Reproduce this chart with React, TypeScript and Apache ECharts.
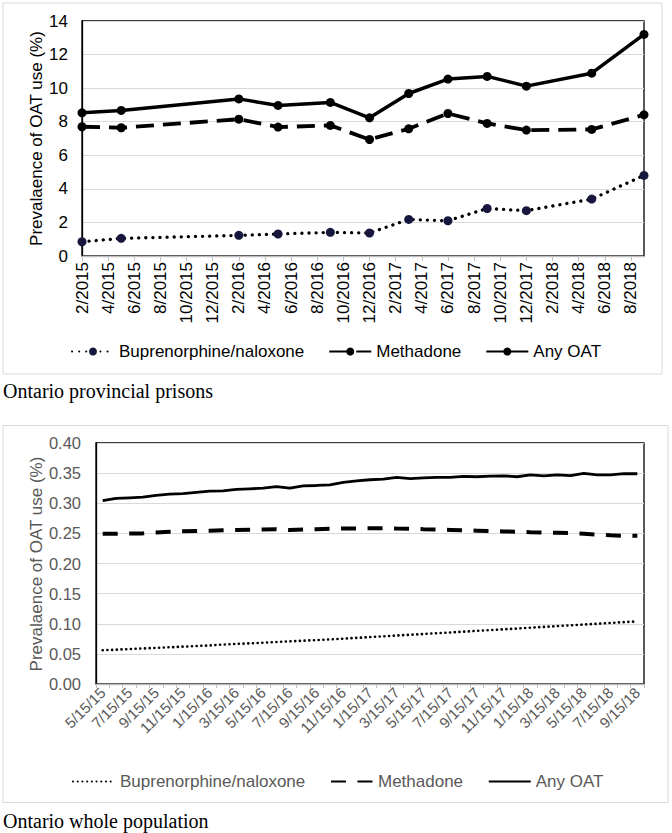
import React, { useEffect, useRef } from "react";
import * as echarts from "echarts";

// ---------- Top chart: Ontario provincial prisons ----------
const topMonths = [
  "2/2015", "3/2015", "4/2015", "5/2015", "6/2015", "7/2015", "8/2015", "9/2015", "10/2015", "11/2015", "12/2015",
  "1/2016", "2/2016", "3/2016", "4/2016", "5/2016", "6/2016", "7/2016", "8/2016", "9/2016", "10/2016", "11/2016", "12/2016",
  "1/2017", "2/2017", "3/2017", "4/2017", "5/2017", "6/2017", "7/2017", "8/2017", "9/2017", "10/2017", "11/2017", "12/2017",
  "1/2018", "2/2018", "3/2018", "4/2018", "5/2018", "6/2018", "7/2018", "8/2018", "9/2018",
];
const topSampleDates = ["2/2015", "5/2015", "2/2016", "5/2016", "9/2016", "12/2016", "3/2017", "6/2017", "9/2017", "12/2017", "5/2018", "9/2018"];
const topBupe = [0.85, 1.05, 1.23, 1.31, 1.41, 1.37, 2.18, 2.1, 2.83, 2.7, 3.39, 4.8];
const topMethadone = [7.7, 7.64, 8.15, 7.68, 7.78, 6.94, 7.58, 8.49, 7.9, 7.5, 7.54, 8.41];
const topAnyOAT = [8.53, 8.67, 9.36, 8.97, 9.15, 8.23, 9.68, 10.54, 10.7, 10.12, 10.89, 13.2];

// ---------- Bottom chart: Ontario whole population ----------
const bottomMonths = [
  "5/15/15", "6/15/15", "7/15/15", "8/15/15", "9/15/15", "10/15/15", "11/15/15", "12/15/15",
  "1/15/16", "2/15/16", "3/15/16", "4/15/16", "5/15/16", "6/15/16", "7/15/16", "8/15/16", "9/15/16", "10/15/16", "11/15/16", "12/15/16",
  "1/15/17", "2/15/17", "3/15/17", "4/15/17", "5/15/17", "6/15/17", "7/15/17", "8/15/17", "9/15/17", "10/15/17", "11/15/17", "12/15/17",
  "1/15/18", "2/15/18", "3/15/18", "4/15/18", "5/15/18", "6/15/18", "7/15/18", "8/15/18", "9/15/18",
];
const bottomBupe = [
  0.056, 0.057, 0.058, 0.059, 0.060, 0.061, 0.062, 0.063, 0.064, 0.0655,
  0.0665, 0.0675, 0.0685, 0.0697, 0.0708, 0.0719, 0.0729, 0.074, 0.0753, 0.0766,
  0.0779, 0.0792, 0.0805, 0.0817, 0.083, 0.0843, 0.0856, 0.0869, 0.0882, 0.0895,
  0.0908, 0.0921, 0.0935, 0.0948, 0.0961, 0.0974, 0.0987, 0.1, 0.1014, 0.1027, 0.104,
];
const bottomMethadone = [
  0.2495, 0.2495, 0.25, 0.25, 0.2515, 0.2525, 0.2535, 0.254, 0.2545, 0.255,
  0.2555, 0.256, 0.2565, 0.257, 0.2555, 0.2565, 0.257, 0.2575, 0.258, 0.258,
  0.2585, 0.2585, 0.258, 0.2578, 0.257, 0.2565, 0.2558, 0.255, 0.2545, 0.254,
  0.2533, 0.2527, 0.252, 0.2515, 0.251, 0.2503, 0.2495, 0.248, 0.2468, 0.246, 0.246,
];
const bottomAnyOAT = [
  0.3044, 0.308, 0.309, 0.31, 0.313, 0.315, 0.316, 0.318, 0.32, 0.3205,
  0.323, 0.324, 0.325, 0.3275, 0.325, 0.329, 0.3295, 0.3305, 0.3345, 0.337,
  0.339, 0.34, 0.343, 0.341, 0.342, 0.343, 0.343, 0.3445, 0.344, 0.345,
  0.3455, 0.344, 0.347, 0.3455, 0.347, 0.346, 0.3495, 0.347, 0.347, 0.349, 0.349,
];

const FONT = "'Liberation Sans', Arial, Helvetica, sans-serif";
const SERIF = "'Liberation Serif', 'Times New Roman', serif";
const GRAY_TEXT = "#595959";

export default function App() {
  const ref = useRef<HTMLDivElement>(null);

  useEffect(() => {
    document.body.style.margin = "0";
    if (!ref.current) return;
    const chart = echarts.init(ref.current, undefined, { renderer: "svg" });

    const option: any = {
      animation: false,
      backgroundColor: "#fff",
      textStyle: { fontFamily: FONT },
      grid: [
        { left: 82, top: 21, width: 562, height: 235, show: true, borderColor: "#000", borderWidth: 1.3, backgroundColor: "transparent" },
        { left: 96, top: 443, width: 548, height: 241, show: true, borderColor: "#000", borderWidth: 1.3, backgroundColor: "transparent" },
      ],
      xAxis: [
        {
          type: "category",
          gridIndex: 0,
          data: topMonths,
          boundaryGap: false,
          axisLine: { show: true, lineStyle: { color: "#bfbfbf", width: 1.3 } },
          axisTick: { show: true, interval: 1, length: 5, lineStyle: { color: "#bfbfbf" } },
          axisLabel: { interval: 1, rotate: 90, fontSize: 17, color: "#000", margin: 6, fontFamily: FONT },
          splitLine: { show: false },
        },
        {
          type: "category",
          gridIndex: 1,
          data: bottomMonths,
          boundaryGap: true,
          axisLine: { show: true, lineStyle: { color: "#bfbfbf", width: 1.3 } },
          axisTick: { show: true, interval: 0, length: 4, lineStyle: { color: "#bfbfbf" } },
          axisLabel: { interval: 1, rotate: 45, fontSize: 15, color: GRAY_TEXT, margin: 6, fontFamily: FONT },
          splitLine: { show: false },
        },
      ],
      yAxis: [
        {
          type: "value",
          gridIndex: 0,
          min: 0,
          max: 14,
          interval: 2,
          axisLine: { show: true, lineStyle: { color: "#000", width: 1.3 } },
          axisTick: { show: false },
          axisLabel: { fontSize: 17, color: "#000", margin: 14, fontFamily: FONT },
          splitLine: { show: true, lineStyle: { color: "#d9d9d9", width: 1 } },
        },
        {
          type: "value",
          gridIndex: 1,
          min: 0,
          max: 0.4,
          interval: 0.05,
          axisLine: { show: true, lineStyle: { color: "#000", width: 1.3 } },
          axisTick: { show: false },
          axisLabel: {
            fontSize: 16.5,
            color: GRAY_TEXT,
            margin: 15,
            fontFamily: FONT,
            formatter: (v: number) => v.toFixed(2),
          },
          splitLine: { show: true, lineStyle: { color: "#d9d9d9", width: 1 } },
        },
      ],
      legend: [
        {
          data: ["Buprenorphine/naloxone", "Methadone", "Any OAT"],
          left: 66,
          top: 338,
          itemWidth: 42,
          itemHeight: 10,
          itemGap: 24,
          textStyle: { fontSize: 17, color: "#000", fontFamily: FONT },
        },
        {
          data: ["Buprenorphine/naloxone ", "Methadone ", "Any OAT "],
          left: 67,
          top: 768,
          itemWidth: 42,
          itemHeight: 2,
          itemGap: 20,
          itemStyle: { color: "rgba(0,0,0,0)", borderColor: "rgba(0,0,0,0)", borderWidth: 0 },
          textStyle: { fontSize: 17, color: GRAY_TEXT, fontFamily: FONT },
        },
      ],
      series: [
        {
          name: "Buprenorphine/naloxone",
          type: "line",
          xAxisIndex: 0,
          yAxisIndex: 0,
          data: topSampleDates.map((d, i) => [d, topBupe[i]]),
          symbol: "circle",
          symbolSize: 9,
          showAllSymbol: true,
          itemStyle: { color: "#17173d" },
          lineStyle: { color: "#000", width: 3.3, type: [0.1, 7], cap: "round" },
          z: 3,
        },
        {
          name: "Methadone",
          type: "line",
          xAxisIndex: 0,
          yAxisIndex: 0,
          data: topSampleDates.map((d, i) => [d, topMethadone[i]]),
          symbol: "circle",
          symbolSize: 9,
          showAllSymbol: true,
          itemStyle: { color: "#000" },
          lineStyle: { color: "#000", width: 3.8, type: [18, 9] },
          z: 3,
        },
        {
          name: "Any OAT",
          type: "line",
          xAxisIndex: 0,
          yAxisIndex: 0,
          data: topSampleDates.map((d, i) => [d, topAnyOAT[i]]),
          symbol: "circle",
          symbolSize: 9,
          showAllSymbol: true,
          itemStyle: { color: "#000" },
          lineStyle: { color: "#000", width: 3.5 },
          z: 3,
        },
        {
          name: "Buprenorphine/naloxone ",
          type: "line",
          xAxisIndex: 1,
          yAxisIndex: 1,
          data: bottomBupe,
          symbol: "none",
          itemStyle: { color: "#000" },
          lineStyle: { color: "#000", width: 2.6, type: [0.1, 4.6], cap: "round" },
          z: 3,
        },
        {
          name: "Methadone ",
          type: "line",
          xAxisIndex: 1,
          yAxisIndex: 1,
          data: bottomMethadone,
          symbol: "none",
          itemStyle: { color: "#000" },
          lineStyle: { color: "#000", width: 4, type: [15, 11.5] },
          z: 3,
        },
        {
          name: "Any OAT ",
          type: "line",
          xAxisIndex: 1,
          yAxisIndex: 1,
          data: bottomAnyOAT,
          symbol: "none",
          itemStyle: { color: "#000" },
          lineStyle: { color: "#000", width: 2.8 },
          z: 3,
        },
      ],
      graphic: [
        {
          type: "rect",
          silent: true,
          z: -10,
          shape: { x: 3, y: 3, width: 659, height: 371 },
          style: { fill: "none", stroke: "#d9d9d9", lineWidth: 1 },
        },
        {
          type: "rect",
          silent: true,
          z: -10,
          shape: { x: 3, y: 425.5, width: 665, height: 377 },
          style: { fill: "none", stroke: "#d9d9d9", lineWidth: 1 },
        },
        {
          type: "text",
          x: 36,
          y: 138.5,
          rotation: Math.PI / 2,
          style: {
            text: "Prevalaence of OAT use (%)",
            font: `17px ${FONT}`,
            fill: "#000",
            align: "center",
            verticalAlign: "middle",
          },
        },
        {
          type: "text",
          x: 36,
          y: 564,
          rotation: Math.PI / 2,
          style: {
            text: "Prevalaence of OAT use (%)",
            font: `17px ${FONT}`,
            fill: GRAY_TEXT,
            align: "center",
            verticalAlign: "middle",
          },
        },
        {
          type: "text",
          x: 3,
          y: 391,
          style: {
            text: "Ontario provincial prisons",
            font: `20px ${SERIF}`,
            fill: "#000",
            align: "left",
            verticalAlign: "middle",
          },
        },
        {
          type: "text",
          x: 3,
          y: 821,
          style: {
            text: "Ontario whole population",
            font: `20px ${SERIF}`,
            fill: "#000",
            align: "left",
            verticalAlign: "middle",
          },
        },
      ],
    };

    chart.setOption(option);
    return () => {
      chart.dispose();
    };
  }, []);

  return <div ref={ref} style={{ width: 672, height: 833 }} />;
}
